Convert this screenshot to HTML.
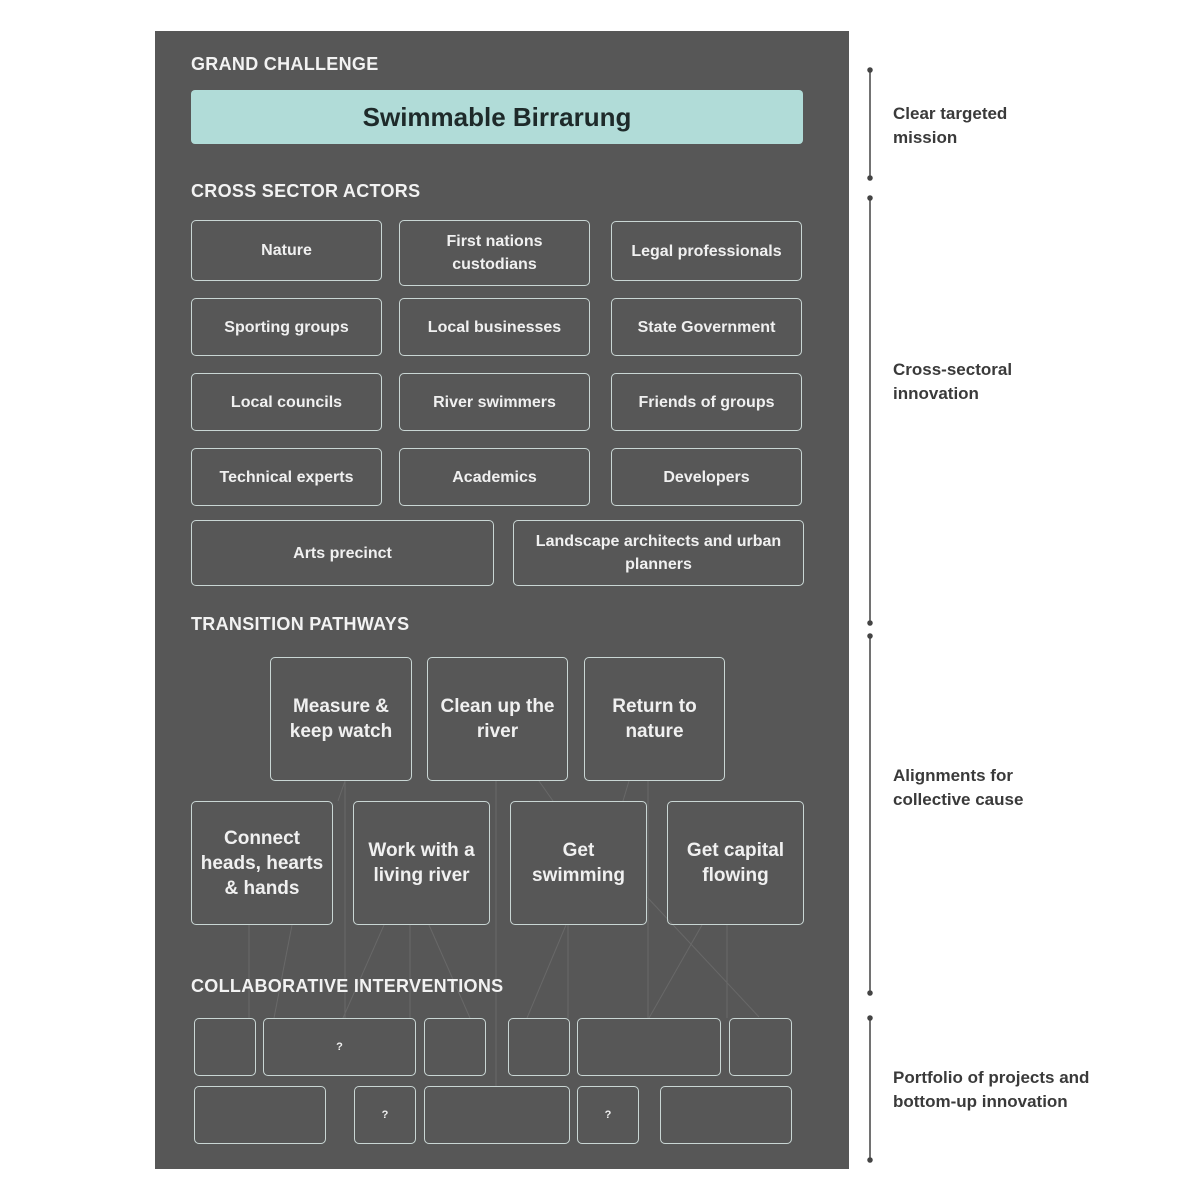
<!DOCTYPE html>
<html><head><meta charset="utf-8"><style>
body{margin:0;width:1200px;height:1200px;background:#fff;position:relative;overflow:hidden;font-family:"Liberation Sans",sans-serif;}
.panel{position:absolute;left:155px;top:31px;width:694px;height:1138px;background:#575757;}
.h{position:absolute;color:#f2f2f2;font-weight:bold;font-size:18px;letter-spacing:0.3px;}
.b{position:absolute;box-sizing:border-box;border:1.5px solid #c9d6d4;border-radius:5px;color:#f0f0f0;font-weight:bold;display:flex;align-items:center;justify-content:center;text-align:center;font-size:16px;line-height:23px;}
.p{font-size:19px;line-height:25px;}
.q{font-size:11px;}
.lbl{position:absolute;left:893px;color:#3a3a3a;font-weight:bold;font-size:17px;line-height:24px;}
svg{position:absolute;left:0;top:0;}
</style></head><body>
<div class="panel"></div>
<svg width="1200" height="1200">
<g stroke="#686868" stroke-width="1" fill="none">
<line x1="345" y1="781" x2="345" y2="1018"/>
<line x1="345" y1="781" x2="338" y2="801"/>
<line x1="249" y1="925" x2="249" y2="1018"/>
<line x1="292" y1="925" x2="274" y2="1018"/>
<line x1="384" y1="925" x2="343" y2="1018"/>
<line x1="410" y1="925" x2="410" y2="1018"/>
<line x1="429" y1="925" x2="470" y2="1018"/>
<line x1="496" y1="781" x2="496" y2="1086"/>
<line x1="539" y1="781" x2="553" y2="801"/>
<line x1="629" y1="781" x2="623" y2="801"/>
<line x1="648" y1="781" x2="648" y2="1018"/>
<line x1="566" y1="925" x2="527" y2="1018"/>
<line x1="568" y1="925" x2="568" y2="1018"/>
<line x1="702" y1="925" x2="649" y2="1018"/>
<line x1="727" y1="925" x2="727" y2="1018"/>
<line x1="647" y1="897" x2="759" y2="1017"/>
</g>
<g stroke="#444" stroke-width="1.5" fill="#444">
<line x1="870" y1="70" x2="870" y2="178"/>
<line x1="870" y1="198" x2="870" y2="623"/>
<line x1="870" y1="636" x2="870" y2="993"/>
<line x1="870" y1="1018" x2="870" y2="1160"/>
<circle cx="870" cy="70" r="2"/><circle cx="870" cy="178" r="2"/>
<circle cx="870" cy="198" r="2"/><circle cx="870" cy="623" r="2"/>
<circle cx="870" cy="636" r="2"/><circle cx="870" cy="993" r="2"/>
<circle cx="870" cy="1018" r="2"/><circle cx="870" cy="1160" r="2"/>
</g>
</svg>
<div class="h" style="left:191px;top:54px;">GRAND CHALLENGE</div>
<div style="position:absolute;left:191px;top:90px;width:612px;height:54px;background:#b1dcd8;border-radius:4px;display:flex;align-items:center;justify-content:center;font-size:26px;font-weight:bold;color:#1e2a2a;">Swimmable Birrarung</div>
<div class="h" style="left:191px;top:181px;">CROSS SECTOR ACTORS</div>
<div class="b" style="left:191px;top:220px;width:191px;height:61px;">Nature</div>
<div class="b" style="left:399px;top:220px;width:191px;height:66px;">First nations<br>custodians</div>
<div class="b" style="left:611px;top:221px;width:191px;height:60px;">Legal professionals</div>
<div class="b" style="left:191px;top:298px;width:191px;height:58px;">Sporting groups</div>
<div class="b" style="left:399px;top:298px;width:191px;height:58px;">Local businesses</div>
<div class="b" style="left:611px;top:298px;width:191px;height:58px;">State Government</div>
<div class="b" style="left:191px;top:373px;width:191px;height:58px;">Local councils</div>
<div class="b" style="left:399px;top:373px;width:191px;height:58px;">River swimmers</div>
<div class="b" style="left:611px;top:373px;width:191px;height:58px;">Friends of groups</div>
<div class="b" style="left:191px;top:448px;width:191px;height:58px;">Technical experts</div>
<div class="b" style="left:399px;top:448px;width:191px;height:58px;">Academics</div>
<div class="b" style="left:611px;top:448px;width:191px;height:58px;">Developers</div>
<div class="b" style="left:191px;top:520px;width:303px;height:66px;">Arts precinct</div>
<div class="b" style="left:513px;top:520px;width:291px;height:66px;">Landscape architects and urban<br>planners</div>
<div class="h" style="left:191px;top:614px;">TRANSITION PATHWAYS</div>
<div class="b p" style="left:270px;top:657px;width:142px;height:124px;">Measure &amp;<br>keep watch</div>
<div class="b p" style="left:427px;top:657px;width:141px;height:124px;">Clean up the<br>river</div>
<div class="b p" style="left:584px;top:657px;width:141px;height:124px;">Return to<br>nature</div>
<div class="b p" style="left:191px;top:801px;width:142px;height:124px;">Connect<br>heads, hearts<br>&amp; hands</div>
<div class="b p" style="left:353px;top:801px;width:137px;height:124px;">Work with a<br>living river</div>
<div class="b p" style="left:510px;top:801px;width:137px;height:124px;">Get<br>swimming</div>
<div class="b p" style="left:667px;top:801px;width:137px;height:124px;">Get capital<br>flowing</div>
<div class="h" style="left:191px;top:976px;">COLLABORATIVE INTERVENTIONS</div>
<div class="b" style="left:194px;top:1018px;width:62px;height:58px;"></div>
<div class="b q" style="left:263px;top:1018px;width:153px;height:58px;">?</div>
<div class="b" style="left:424px;top:1018px;width:62px;height:58px;"></div>
<div class="b" style="left:508px;top:1018px;width:62px;height:58px;"></div>
<div class="b" style="left:577px;top:1018px;width:144px;height:58px;"></div>
<div class="b" style="left:729px;top:1018px;width:63px;height:58px;"></div>
<div class="b" style="left:194px;top:1086px;width:132px;height:58px;"></div>
<div class="b q" style="left:354px;top:1086px;width:62px;height:58px;">?</div>
<div class="b" style="left:424px;top:1086px;width:146px;height:58px;"></div>
<div class="b q" style="left:577px;top:1086px;width:62px;height:58px;">?</div>
<div class="b" style="left:660px;top:1086px;width:132px;height:58px;"></div>
<div class="lbl" style="top:102px;">Clear targeted<br>mission</div>
<div class="lbl" style="top:358px;">Cross-sectoral<br>innovation</div>
<div class="lbl" style="top:764px;">Alignments for<br>collective cause</div>
<div class="lbl" style="top:1066px;">Portfolio of projects and<br>bottom-up innovation</div>
</body></html>
